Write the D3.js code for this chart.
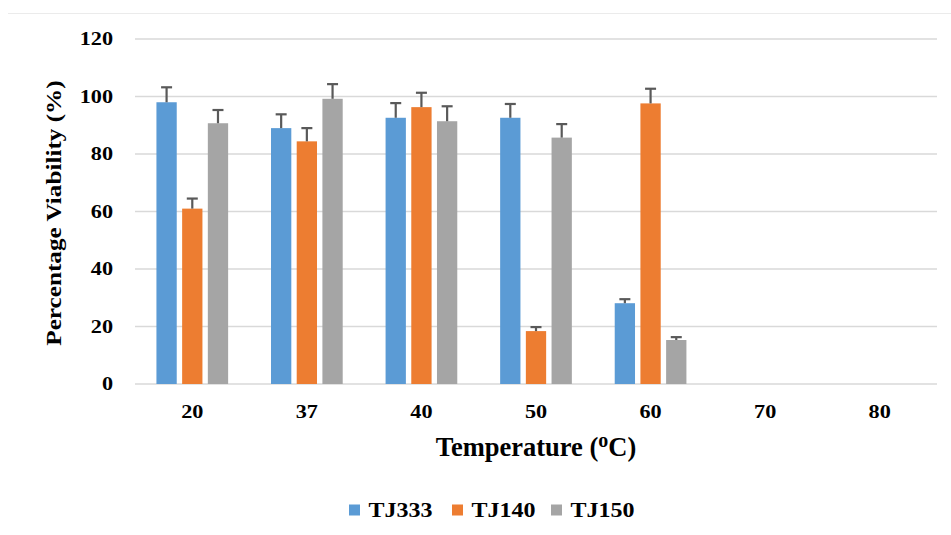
<!DOCTYPE html>
<html>
<head>
<meta charset="utf-8">
<script src="https://cdn.jsdelivr.net/npm/d3@7"></script>
<style>
  html, body { margin: 0; padding: 0; background: #fff; }
</style>
</head>
<body>
<div id="chart"></div>
<script>
const temperatures = ['20', '37', '40', '50', '60', '70', '80'];
const seriesNames = ['TJ333', 'TJ140', 'TJ150'];
const seriesColors = ['#5B9BD5', '#ED7D31', '#A5A5A5'];
// null = no bar at that temperature
const tj333 = [98, 89, 92.6, 92.6, 28.1, null, null];
const tj140 = [61, 84.4, 96.3, 18.4, 97.6, null, null];
const tj150 = [90.7, 99.2, 91.4, 85.7, 15.3, null, null];
const tj333Err = [5.2, 4.8, 5.1, 4.8, 1.4, null, null];
const tj140Err = [3.5, 4.6, 5.0, 1.4, 5.1, null, null];
const tj150Err = [4.6, 5.1, 5.2, 4.7, 1.0, null, null];
const yTicks = [0, 20, 40, 60, 80, 100, 120];

const width = 951, height = 535;
const margin = { top: 39, right: 14, bottom: 151, left: 135 };
const innerW = width - margin.left - margin.right;
const innerH = height - margin.top - margin.bottom;
const serif = '"Liberation Serif", "Times New Roman", serif';
const stretch = 1.14; // text in the original is a little wide

const svg = d3.select('#chart').append('svg')
    .attr('width', width)
    .attr('height', height)
    .style('display', 'block');

// faint frame line along the top
svg.append('line')
    .attr('x1', 8).attr('x2', width)
    .attr('y1', 13.5).attr('y2', 13.5)
    .attr('stroke', '#ebebeb').attr('stroke-width', 1);

const g = svg.append('g')
    .attr('transform', `translate(${margin.left},${margin.top})`);

const x = d3.scaleBand().domain(temperatures).range([0, innerW]).paddingInner(0).paddingOuter(0);
const y = d3.scaleLinear().domain([0, 120]).range([innerH, 0]);

// gridlines
g.selectAll('.grid').data(yTicks).join('line')
    .attr('class', 'grid')
    .attr('x1', 0).attr('x2', innerW)
    .attr('y1', d => y(d)).attr('y2', d => y(d))
    .attr('stroke', '#d9d9d9').attr('stroke-width', 1.5);

// y tick labels
g.selectAll('.ylab').data(yTicks).join('text')
    .attr('class', 'ylab')
    .attr('transform', d => `translate(-22,${y(d)}) scale(${stretch},1)`)
    .attr('dy', '0.33em')
    .attr('text-anchor', 'end')
    .attr('font-family', serif).attr('font-weight', 'bold')
    .attr('font-size', 19.5)
    .attr('fill', '#000')
    .text(d => d);

// x tick labels
g.selectAll('.xlab').data(temperatures).join('text')
    .attr('class', 'xlab')
    .attr('transform', d => `translate(${x(d) + x.bandwidth() / 2},${innerH + 34}) scale(${stretch},1)`)
    .attr('text-anchor', 'middle')
    .attr('font-family', serif).attr('font-weight', 'bold')
    .attr('font-size', 19.5)
    .attr('fill', '#000')
    .text(d => d);

const barW = 20.3, pitch = 25.7;
const sub = d3.scaleOrdinal().domain(seriesNames).range([-pitch, 0, pitch]);
const values = [tj333, tj140, tj150];
const errs = [tj333Err, tj140Err, tj150Err];

const rows = [];
seriesNames.forEach((s, si) => {
    temperatures.forEach((t, ti) => {
        if (values[si][ti] != null) {
            rows.push({ s, si, t, v: values[si][ti], e: errs[si][ti] });
        }
    });
});

const cx = d => x(d.t) + x.bandwidth() / 2 + sub(d.s);

g.selectAll('.bar').data(rows).join('rect')
    .attr('class', 'bar')
    .attr('x', d => cx(d) - barW / 2)
    .attr('y', d => y(d.v))
    .attr('width', barW)
    .attr('height', d => innerH - y(d.v))
    .attr('fill', d => seriesColors[d.si]);

// error bars (upper only)
const errG = g.selectAll('.err').data(rows).join('g').attr('class', 'err')
    .attr('stroke', '#595959').attr('stroke-width', 2.2);
errG.append('line')
    .attr('x1', cx).attr('x2', cx)
    .attr('y1', d => y(d.v)).attr('y2', d => y(d.v + d.e));
errG.append('line')
    .attr('x1', d => cx(d) - 5.5).attr('x2', d => cx(d) + 5.5)
    .attr('y1', d => y(d.v + d.e)).attr('y2', d => y(d.v + d.e));

// axis titles
svg.append('text')
    .attr('transform', `translate(61,${margin.top + innerH / 2 + 1.5}) rotate(-90) scale(1.2,1)`)
    .attr('text-anchor', 'middle')
    .attr('font-family', serif).attr('font-weight', 'bold')
    .attr('font-size', 21)
    .attr('fill', '#000')
    .text('Percentage Viability (%)');

const xt = svg.append('text')
    .attr('x', margin.left + innerW / 2)
    .attr('y', 455.5)
    .attr('text-anchor', 'middle')
    .attr('font-family', serif).attr('font-weight', 'bold')
    .attr('font-size', 26.5)
    .attr('fill', '#000');
xt.append('tspan').text('Temperature (');
xt.append('tspan').attr('font-size', 20).attr('dy', -8.5).text('o');
xt.append('tspan').attr('dy', 8.5).text('C)');

// legend
const legendX = [349, 452, 551];
const leg = svg.selectAll('.leg').data(seriesNames).join('g')
    .attr('class', 'leg')
    .attr('transform', (d, i) => `translate(${legendX[i]},510)`);
leg.append('rect')
    .attr('x', 0).attr('y', -5.5).attr('width', 11).attr('height', 11)
    .attr('fill', (d, i) => seriesColors[i]);
leg.append('text')
    .attr('transform', `translate(19.5,0) scale(1.17,1)`)
    .attr('dy', '0.34em')
    .attr('font-family', serif).attr('font-weight', 'bold')
    .attr('font-size', 20.5)
    .attr('fill', '#000')
    .text(d => d);
</script>
</body>
</html>
